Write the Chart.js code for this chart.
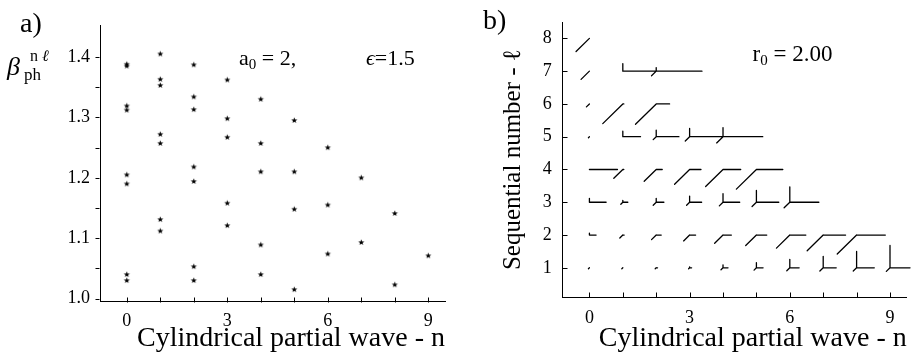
<!DOCTYPE html>
<html><head><meta charset="utf-8">
<script src="https://cdn.jsdelivr.net/npm/chart.js@4.4.1/dist/chart.umd.min.js"></script>
<style>
html,body{margin:0;padding:0;background:#fff;}
#wrap{position:relative;width:911px;height:360px;overflow:hidden;}
#chartA{position:absolute;left:0;top:0;}
#chartB{position:absolute;left:455px;top:0;}
</style></head><body>
<div id="wrap">
<canvas id="chartA" width="455" height="360"></canvas>
<canvas id="chartB" width="456" height="360"></canvas>
</div>
<script>
// ---------- Panel a data ----------
const waveN = [0, 1, 2, 3, 4, 5, 6, 7, 8, 9];
const betaN0 = [1.388, 1.385, 1.319, 1.312, 1.205, 1.190, 1.040, 1.030];
const betaN1 = [1.405, 1.363, 1.353, 1.272, 1.257, 1.131, 1.112];
const betaN2 = [1.387, 1.334, 1.313, 1.218, 1.194, 1.053, 1.030];
const betaN3 = [1.362, 1.298, 1.267, 1.158, 1.121];
const betaN4 = [1.330, 1.257, 1.210, 1.089, 1.040];
const betaN5 = [1.295, 1.210, 1.148, 1.015];
const betaN6 = [1.250, 1.155, 1.074];
const betaN7 = [1.200, 1.093];
const betaN8 = [1.141, 1.023];
const betaN9 = [1.071];
const betaByWave = [betaN0, betaN1, betaN2, betaN3, betaN4, betaN5, betaN6, betaN7, betaN8, betaN9];
const xTickLabels = [0, 3, 6, 9];
const xTickMarks = [0, 1, 2, 3, 4, 5, 6, 7, 8, 9];
const betaTickLabels = [1.0, 1.1, 1.2, 1.3, 1.4];
const betaTickMarks = [1.0, 1.05, 1.1, 1.15, 1.2, 1.25, 1.3, 1.35, 1.4];

// ---------- Panel b data (glyph components per row l, indexed by n) ----------
const seqNumbers = [1, 2, 3, 4, 5, 6, 7, 8];
const horizByRow = [
  [0, 0, 0.04, 0.06, 0.15, 0.20, 0.28, 0.39, 0.53, 0.60],
  [0.20, 0.04, 0.15, 0.18, 0.25, 0.31, 0.48, 0.67, 0.86],
  [0.50, 0.15, 0.23, 0.36, 0.50, 0.67, 0.87],
  [0.84, 0.03, 0.18, 0.34, 0.53, 0.79],
  [0, 0.53, 0.68, 0.98, 1.19],
  [0, 0.03, 0.40],
  [0, 1.00, 1.37],
  [0]
];
const vertByRow = [
  [0, 0, 0, 0.03, 0.09, 0.16, 0.26, 0.35, 0.50, 0.68],
  [0.06, 0, 0, 0, 0, 0, 0, 0, 0],
  [0.12, 0.06, 0.12, 0.19, 0.26, 0.36, 0.47],
  [0, 0, 0, 0, 0, 0],
  [0, 0.17, 0.20, 0.25, 0.28],
  [0, 0, 0],
  [0, 0.23, 0.11],
  [0]
];
const diagByRow = [
  [0.03, 0.03, 0.03, 0.03, 0.06, 0.07, 0.09, 0.10, 0.10, 0.11],
  [0, 0.09, 0.14, 0.18, 0.25, 0.32, 0.40, 0.48, 0.58],
  [0, 0.06, 0.09, 0.09, 0.11, 0.13, 0.17],
  [0, 0.27, 0.36, 0.45, 0.52, 0.60],
  [0.03, 0, 0.09, 0.13, 0.19],
  [0.09, 0.60, 0.62],
  [0.25, 0, 0.14],
  [0.40]
];
const seqTickLabels = [1, 2, 3, 4, 5, 6, 7, 8];

// ---------- helpers ----------
const SERIF = "'Liberation Serif', 'DejaVu Serif', serif";

function makeStar(r) {
  const s = Math.ceil(r * 2 + 2);
  const c = document.createElement('canvas');
  c.width = s; c.height = s;
  const g = c.getContext('2d');
  g.beginPath();
  for (let i = 0; i < 10; i++) {
    const rad = (i % 2) ? r * 0.42 : r;
    const a = -Math.PI / 2 + i * Math.PI / 5;
    g.lineTo(s / 2 + rad * Math.cos(a), s / 2 + rad * Math.sin(a));
  }
  g.closePath();
  g.fillStyle = '#000';
  g.fill();
  return c;
}

function drawRuns(ctx, x, y, runs) {
  ctx.save();
  ctx.fillStyle = '#000';
  ctx.textBaseline = 'alphabetic';
  ctx.textAlign = 'left';
  let cx = x;
  runs.forEach(r => {
    ctx.font = (r.italic ? 'italic ' : '') + r.size + 'px ' + SERIF;
    ctx.fillText(r.t, cx + (r.dx || 0), y + (r.dy || 0));
    cx += ctx.measureText(r.t).width + (r.dx || 0);
  });
  ctx.restore();
}

function tickMarkPlugin(spec) {
  return {
    id: 'tickmarks',
    afterDraw(chart) {
      const ctx = chart.ctx;
      const xs = chart.scales.x, ys = chart.scales.y;
      ctx.save();
      ctx.strokeStyle = '#000';
      ctx.lineWidth = 1;
      ctx.beginPath();
      const xAxisY = Math.round(xs.top) + 0.5;
      spec.x.values.forEach(v => {
        const px = Math.round(xs.getPixelForValue(v)) + 0.5;
        ctx.moveTo(px, xAxisY);
        ctx.lineTo(px, xAxisY + (spec.x.inward ? -spec.x.len : spec.x.len));
      });
      const yAxisX = Math.round(ys.right) - 0.5;
      spec.y.values.forEach(v => {
        const py = Math.round(ys.getPixelForValue(v)) + 0.5;
        ctx.moveTo(yAxisX, py);
        ctx.lineTo(yAxisX + (spec.y.inward ? spec.y.len : -spec.y.len), py);
      });
      ctx.stroke();
      ctx.restore();
    }
  };
}

// ---------- Panel a ----------
const starImg = makeStar(3.2);
const pointsA = [];
waveN.forEach((n, i) => betaByWave[i].forEach(b => pointsA.push({ x: n, y: b })));

const annotA = {
  id: 'annotA',
  afterDraw(chart) {
    const ctx = chart.ctx;
    drawRuns(ctx, 20, 32, [{ t: 'a)', size: 28 }]);
    drawRuns(ctx, 7, 75, [{ t: 'β', size: 26, italic: true }]);
    drawRuns(ctx, 24, 80, [{ t: 'ph', size: 17 }]);
    drawRuns(ctx, 30, 61, [{ t: 'n', size: 16 }, { t: 'ℓ', size: 16, italic: true, dx: 4 }]);
    drawRuns(ctx, 239, 64.5, [{ t: 'a', size: 22 }, { t: '0', size: 15, dy: 4 }, { t: ' = 2,', size: 22 }]);
    drawRuns(ctx, 366, 64.5, [{ t: 'ϵ', size: 22, italic: true }, { t: '=1.5', size: 22 }]);
  }
};

new Chart(document.getElementById('chartA'), {
  type: 'scatter',
  data: { datasets: [{ data: pointsA, pointStyle: starImg, pointRadius: 3, backgroundColor: '#000', borderColor: '#000' }] },
  options: {
    responsive: false, animation: false, events: [],
    plugins: { legend: { display: false }, tooltip: { enabled: false } },
    layout: { padding: { top: 25, right: 10, left: 0, bottom: 0 } },
    scales: {
      x: {
        type: 'linear', min: -0.8, max: 9.5,
        afterBuildTicks: s => { s.ticks = xTickLabels.map(v => ({ value: v })); },
        afterFit: s => { s.height = 58.3; },
        grid: { display: false, drawTicks: false },
        border: { display: true, color: '#000', width: 1 },
        ticks: { padding: 9, color: '#000', font: { family: SERIF, size: 18 }, callback: v => String(v), maxRotation: 0, autoSkip: false },
        title: { display: true, text: 'Cylindrical partial wave - n', align: 'end', color: '#000', font: { family: SERIF, size: 28 }, padding: { top: 0, bottom: 5 } }
      },
      y: {
        type: 'linear', min: 0.995, max: 1.453,
        afterBuildTicks: s => { s.ticks = betaTickLabels.map(v => ({ value: v })); },
        afterFit: s => { s.width = 100; },
        grid: { display: false, drawTicks: false },
        border: { display: true, color: '#000', width: 1 },
        ticks: { padding: 10, color: '#000', font: { family: SERIF, size: 18 }, callback: v => Number(v).toFixed(1), autoSkip: false }
      }
    }
  },
  plugins: [tickMarkPlugin({ x: { values: xTickMarks, len: 5, inward: true }, y: { values: betaTickMarks, len: 4, inward: false } }), annotA]
});

// ---------- Panel b ----------
const glyphPts = [];
seqNumbers.forEach((l, i) => {
  horizByRow[i].forEach((h, n) => {
    const v = vertByRow[i][n], d = diagByRow[i][n];
    if (h > 0) glyphPts.push({ x: n, y: l }, { x: n + h, y: l }, { x: n, y: null });
    if (v > 0) glyphPts.push({ x: n, y: l }, { x: n, y: l + v }, { x: n, y: null });
    if (d > 0) glyphPts.push({ x: n, y: l }, { x: n - d, y: l - d }, { x: n, y: null });
  });
});

const annotB = {
  id: 'annotB',
  afterDraw(chart) {
    const ctx = chart.ctx;
    drawRuns(ctx, 28, 29, [{ t: 'b)', size: 28 }]);
    drawRuns(ctx, 297.5, 60.7, [{ t: 'r', size: 23 }, { t: '0', size: 15, dy: 4 }, { t: ' = 2.00', size: 23 }]);
  }
};

new Chart(document.getElementById('chartB'), {
  type: 'scatter',
  data: { datasets: [{ data: glyphPts, showLine: true, spanGaps: false, pointRadius: 0, borderColor: '#000', borderWidth: 1.3, borderCapStyle: 'round', clip: false }] },
  options: {
    responsive: false, animation: false, events: [],
    plugins: { legend: { display: false }, tooltip: { enabled: false } },
    layout: { padding: { top: 22, right: 4.3, left: 0, bottom: 0 } },
    scales: {
      x: {
        type: 'linear', min: -0.8, max: 9.5,
        afterBuildTicks: s => { s.ticks = xTickLabels.map(v => ({ value: v })); },
        afterFit: s => { s.height = 62.7; },
        grid: { display: false, drawTicks: false },
        border: { display: true, color: '#000', width: 1 },
        ticks: { padding: 10, color: '#000', font: { family: SERIF, size: 18 }, callback: v => String(v), maxRotation: 0, autoSkip: false },
        title: { display: true, text: 'Cylindrical partial wave - n', align: 'end', color: '#000', font: { family: SERIF, size: 28 }, padding: { top: 0, bottom: 5 } }
      },
      y: {
        type: 'linear', min: 0.1, max: 8.5,
        afterBuildTicks: s => { s.ticks = seqTickLabels.map(v => ({ value: v })); },
        afterFit: s => { s.width = 107.7; },
        grid: { display: false, drawTicks: false },
        border: { display: true, color: '#000', width: 1 },
        ticks: { padding: 11, color: '#000', font: { family: SERIF, size: 18 }, callback: v => String(v), autoSkip: false },
        title: { display: true, text: 'Sequential number - ℓ', color: '#000', font: { family: SERIF, size: 25 }, padding: { top: 43, bottom: 0 } }
      }
    }
  },
  plugins: [tickMarkPlugin({ x: { values: xTickMarks, len: 5, inward: true }, y: { values: seqTickLabels, len: 5, inward: true } }), annotB]
});
</script>
</body></html>
